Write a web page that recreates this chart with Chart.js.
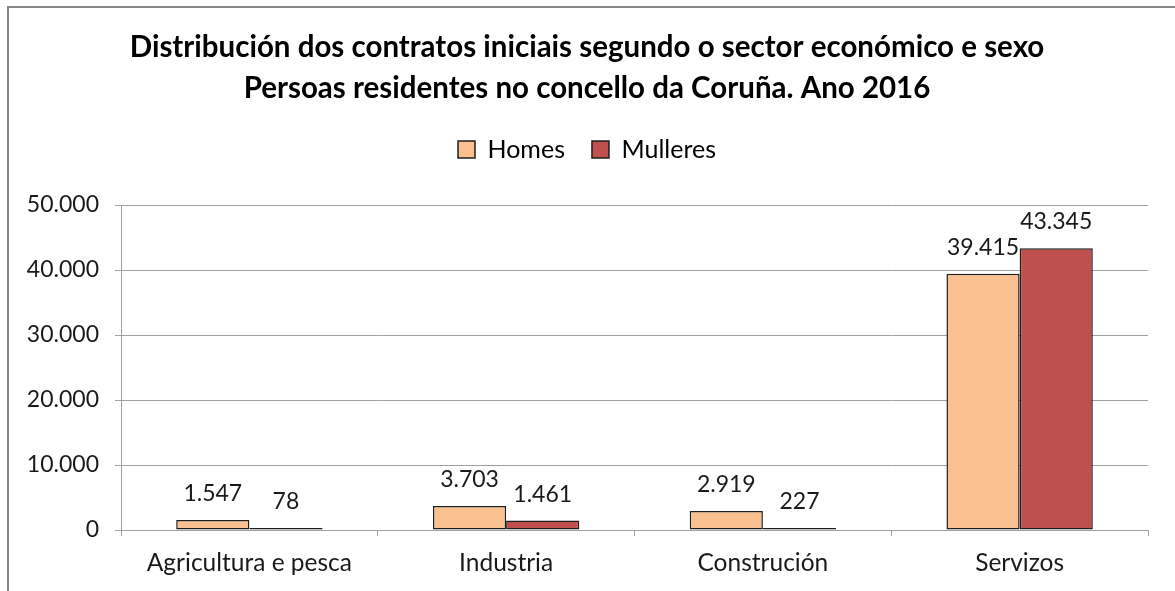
<!DOCTYPE html>
<html>
<head>
<meta charset="utf-8">
<script src="https://cdn.jsdelivr.net/npm/chart.js@4"></script>
<style>
  body { margin: 0; background: #fff; }
  #wrap { position: relative; width: 1175px; height: 591px; }
</style>
</head>
<body>
<div id="wrap"><canvas id="myChart" width="1175" height="591"></canvas></div>
<script>
// chart data
const sectores = ['Agricultura e pesca', 'Industria', 'Construción', 'Servizos'];
const homes = [1547, 3703, 2919, 39415];
const mulleres = [78, 1461, 227, 43345];
const yTicks = [0, 10000, 20000, 30000, 40000, 50000];

const FONT = 'Lato';

function fmt(v) {
    return String(v).replace(/\B(?=(\d{3})+(?!\d))/g, '.');
}

// outer frame (left + top edges only, as in the original)
const framePlugin = {
    id: 'frame',
    beforeDraw(chart) {
        const c = chart.ctx;
        c.save();
        c.strokeStyle = '#878787';
        c.lineWidth = 2;
        c.beginPath();
        c.moveTo(8, 591);
        c.lineTo(8, 7);
        c.lineTo(1175, 7);
        c.stroke();
        c.restore();
    }
};

// empty box between legend and plot area, to push the plot down
const spacerPlugin = {
    id: 'spacer',
    beforeInit(chart) {
        const box = {
            position: 'top',
            weight: 0,
            fullSize: true,
            options: {},
            left: 0, right: 0, top: 0, bottom: 0, width: 0, height: 0,
            isHorizontal() { return true; },
            update(maxWidth) {
                this.width = maxWidth;
                this.height = 33;
            },
            draw() {}
        };
        Chart.layouts.addBox(chart, box);
    }
};

// value labels above the bars
const valueLabels = {
    id: 'valueLabels',
    afterDatasetsDraw(chart) {
        const c = chart.ctx;
        c.save();
        c.font = '23px ' + FONT;
        c.fillStyle = '#1a1a1a';
        c.textAlign = 'center';
        c.textBaseline = 'alphabetic';
        chart.data.datasets.forEach((ds, i) => {
            chart.getDatasetMeta(i).data.forEach((bar, j) => {
                c.fillText(fmt(ds.data[j]), bar.x, bar.y - 19);
            });
        });
        c.restore();
    }
};

const ctx = document.getElementById('myChart').getContext('2d');
const myChart = new Chart(ctx, {
    type: 'bar',
    data: {
        labels: sectores,
        datasets: [
            {
                label: 'Homes',
                data: homes,
                backgroundColor: '#FAC090',
                borderColor: '#1e1e1e',
                borderWidth: 1.5,
                borderSkipped: false,
                minBarLength: 2
            },
            {
                label: 'Mulleres',
                data: mulleres,
                backgroundColor: '#C0504D',
                borderColor: '#1e1e1e',
                borderWidth: 1.5,
                borderSkipped: false,
                minBarLength: 2
            }
        ]
    },
    plugins: [framePlugin, spacerPlugin, valueLabels],
    options: {
        responsive: false,
        animation: false,
        layout: { padding: { left: 26, right: 27, top: 0, bottom: 0 } },
        datasets: {
            bar: { barPercentage: 1, categoryPercentage: 0.57 }
        },
        plugins: {
            title: {
                display: true,
                text: ['Distribución dos contratos iniciais segundo o sector económico e sexo',
                       'Persoas residentes no concello da Coruña. Ano 2016'],
                color: '#000',
                font: { family: FONT, size: 29.5, weight: 'bold', lineHeight: 41 / 29.5 },
                padding: { top: 27, bottom: 1 }
            },
            legend: {
                position: 'top',
                labels: {
                    color: '#000',
                    font: { family: FONT, size: 25 },
                    boxWidth: 17,
                    boxHeight: 17,
                    padding: 27
                }
            },
            tooltip: { enabled: false }
        },
        scales: {
            x: {
                grid: {
                    drawOnChartArea: false,
                    drawTicks: true,
                    tickLength: 6,
                    color: '#a0a0a0'
                },
                border: { color: '#a0a0a0' },
                ticks: {
                    color: '#1a1a1a',
                    font: { family: FONT, size: 24.5 },
                    padding: 12,
                    maxRotation: 0
                },
                afterFit(scale) { scale.height = 61; }
            },
            y: {
                min: 0,
                max: 50000,
                afterBuildTicks(scale) {
                    scale.ticks = yTicks.map(v => ({ value: v }));
                },
                grid: {
                    color: '#a0a0a0',
                    tickLength: 6
                },
                border: { color: '#a0a0a0' },
                ticks: {
                    color: '#1a1a1a',
                    font: { family: FONT, size: 23 },
                    padding: 16,
                    callback: v => fmt(v)
                },
                afterFit(scale) { scale.width = 95; }
            }
        }
    }
});
</script>
</body>
</html>
